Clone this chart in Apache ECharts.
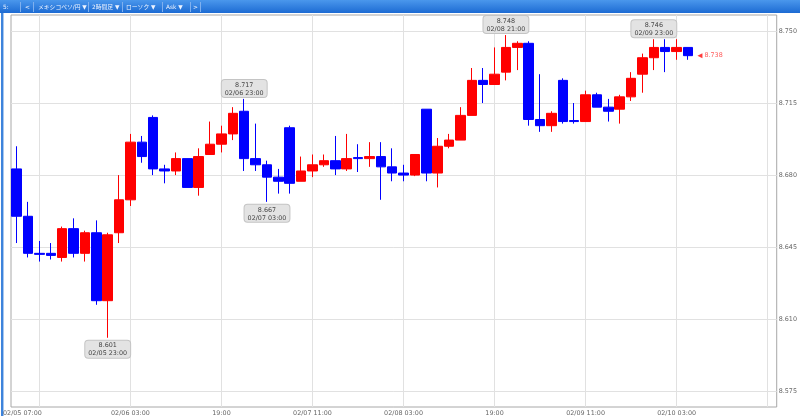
<!DOCTYPE html>
<html><head><meta charset="utf-8">
<script src="https://cdn.jsdelivr.net/npm/echarts@6/dist/echarts.min.js"></script>
<style>html,body{margin:0;padding:0;background:#fff;overflow:hidden}#c{width:800px;height:416px}</style>
</head><body><div id="c"></div>
<script>
// ---- data ----
const times = [
 '02/05 07:00','02/05 09:00','02/05 11:00','02/05 13:00','02/05 15:00','02/05 17:00','02/05 19:00','02/05 21:00','02/05 23:00',
 '02/06 01:00','02/06 03:00','02/06 05:00','02/06 07:00','02/06 09:00','02/06 11:00','02/06 13:00','02/06 15:00','02/06 17:00','02/06 19:00','02/06 21:00','02/06 23:00',
 '02/07 01:00','02/07 03:00','02/07 05:00','02/07 07:00','02/07 09:00','02/07 11:00','02/07 13:00','02/07 15:00','02/07 17:00','02/07 19:00','02/07 21:00','02/07 23:00',
 '02/08 01:00','02/08 03:00','02/08 05:00','02/08 07:00','02/08 09:00','02/08 11:00','02/08 13:00','02/08 15:00','02/08 17:00','02/08 19:00','02/08 21:00','02/08 23:00',
 '02/09 01:00','02/09 03:00','02/09 05:00','02/09 07:00','02/09 09:00','02/09 11:00','02/09 13:00','02/09 15:00','02/09 17:00','02/09 19:00','02/09 21:00','02/09 23:00',
 '02/10 01:00','02/10 03:00','02/10 05:00'
];
const openP  = [8.683,8.660,8.642,8.642,8.640,8.654,8.642,8.652,8.619,8.652,8.668,8.696,8.708,8.683,8.682,8.688,8.674,8.690,8.695,8.700,
                8.711,8.688,8.685,8.679,8.703,8.677,8.682,8.685,8.687,8.683,8.6885,8.688,8.689,8.684,8.681,8.680,8.712,8.681,8.694,8.697,
                8.709,8.726,8.724,8.730,8.742,8.744,8.707,8.704,8.726,8.7065,8.706,8.719,8.713,8.712,8.718,8.729,8.737,8.742,8.740,8.742];
const closeP = [8.660,8.642,8.6415,8.641,8.654,8.642,8.652,8.619,8.651,8.668,8.696,8.689,8.683,8.682,8.688,8.674,8.689,8.695,8.700,8.710,
                8.688,8.685,8.679,8.677,8.676,8.682,8.685,8.687,8.683,8.688,8.688,8.689,8.684,8.681,8.680,8.690,8.681,8.694,8.697,8.709,
                8.726,8.724,8.729,8.742,8.744,8.707,8.704,8.710,8.706,8.706,8.719,8.713,8.711,8.718,8.727,8.737,8.742,8.740,8.742,8.738];
const lowP   = [8.647,8.640,8.638,8.639,8.638,8.640,8.638,8.617,8.601,8.647,8.665,8.686,8.680,8.676,8.680,8.674,8.670,8.690,8.691,8.697,
                8.682,8.682,8.667,8.671,8.671,8.677,8.679,8.684,8.680,8.682,8.6815,8.684,8.668,8.677,8.677,8.6795,8.677,8.674,8.693,8.697,
                8.709,8.715,8.724,8.726,8.731,8.704,8.701,8.701,8.705,8.705,8.706,8.713,8.706,8.705,8.716,8.720,8.731,8.730,8.736,8.736];
const highP  = [8.694,8.667,8.648,8.647,8.655,8.659,8.653,8.658,8.652,8.680,8.700,8.699,8.709,8.685,8.691,8.688,8.693,8.706,8.704,8.713,
                8.717,8.705,8.687,8.683,8.704,8.689,8.690,8.690,8.699,8.700,8.695,8.696,8.696,8.693,8.685,8.690,8.712,8.698,8.700,8.713,
                8.732,8.732,8.742,8.748,8.745,8.745,8.729,8.711,8.727,8.715,8.721,8.720,8.717,8.719,8.730,8.739,8.746,8.746,8.746,8.742];
const priceTicks = [8.575, 8.610, 8.645, 8.680, 8.715, 8.750];
const timeGridIdx = [2, 10, 18, 26, 34, 42, 50, 58, 66];
const timeLabelIdx = [10, 18, 26, 34, 42, 50, 58];
const timeLabelText = ['02/06 03:00', '19:00', '02/07 11:00', '02/08 03:00', '19:00', '02/09 11:00', '02/10 03:00'];
const firstLabelText = '02/05 07:00';
const noteIdx = [8, 20, 22, 43, 56];
const noteSide = ['low', 'high', 'low', 'high', 'high'];
const lastPrice = 8.738;
const toolbarItems = ['5:', '<', 'メキシコペソ/円 ▼', '2時間足 ▼', 'ローソク ▼', 'Ask ▼', '>'];

// ---- layout / style ----
const FONT = '"DejaVu Sans", Verdana, sans-serif';
const TB_FONT = '"DejaVu Sans", "Noto Sans CJK JP", sans-serif';
const toolbarX = [3, 25, 38, 92, 126, 166, 193];
const dividerX = [20, 33, 88, 122, 162, 190, 200];
const X_MIN = -0.5, X_MAX = 66.8, Y_MIN = 8.56737, Y_MAX = 8.75775;

const candleData = openP.map((o, i) => [i, o, closeP[i], lowP[i], highP[i]]);

const noteLabel = {
  show: true, fontSize: 6.4, fontFamily: FONT, color: '#444', lineHeight: 8,
  backgroundColor: '#e3e3e3', borderColor: '#c4c4c4', borderWidth: 1, borderRadius: 3,
  padding: [1, 3, 0, 3], align: 'center'
};
const markData = noteIdx.map((idx, k) => {
  const hi = noteSide[k] === 'high';
  const v = hi ? highP[idx] : lowP[idx];
  return {
    coord: [idx, v], symbol: 'circle', symbolSize: 0,
    label: Object.assign({}, noteLabel, {
      position: hi ? 'top' : 'bottom', distance: hi ? 2 : 3,
      formatter: v.toFixed(3) + '\n' + times[idx]
    })
  };
});
markData.push({
  coord: [openP.length - 1, lastPrice], symbol: 'triangle', symbolSize: [5, 5], symbolRotate: 90,
  symbolOffset: [12, 0], itemStyle: { color: '#ff3b3b' },
  label: { show: true, position: 'right', distance: 2, fontSize: 6.4, fontFamily: FONT, color: '#ff5a5a',
           formatter: lastPrice.toFixed(3) }
});

const graphics = [
  { type: 'rect', shape: { x: 0, y: 0, width: 800, height: 13 }, silent: true,
    style: { fill: new echarts.graphic.LinearGradient(0, 0, 0, 1, [{ offset: 0, color: '#4a97ec' }, { offset: 1, color: '#1d6bd3' }]) } },
  { type: 'rect', shape: { x: 1, y: 13, width: 2, height: 403 }, silent: true, style: { fill: '#3d84dc' } },
  { type: 'rect', shape: { x: 3, y: 13, width: 1, height: 403 }, silent: true, style: { fill: '#a9c8ef' } }
];
dividerX.forEach(x => graphics.push({ type: 'rect', shape: { x: x, y: 2, width: 1, height: 10 }, silent: true, style: { fill: '#7fb0ee' } }));
toolbarItems.forEach((t, k) => graphics.push({
  type: 'text', x: toolbarX[k], y: 7, silent: true,
  style: { text: t, fill: '#eef4ff', font: '5.8px ' + TB_FONT, verticalAlign: 'middle', textAlign: 'left' }
}));

const axisLabelBase = { fontSize: 6.4, fontFamily: FONT, color: '#666' };

const option = {
  animation: false,
  backgroundColor: '#fff',
  grid: { left: 7, top: 15, right: 19, bottom: 8, show: true, borderColor: '#a8a8a8', borderWidth: 1, backgroundColor: 'transparent' },
  xAxis: [{
    type: 'value', min: X_MIN, max: X_MAX, position: 'bottom',
    axisLine: { show: false }, axisTick: { show: false, customValues: timeGridIdx },
    splitLine: { show: true, lineStyle: { color: '#e1e1e1', width: 1 } },
    axisLabel: Object.assign({}, axisLabelBase, { margin: 3, customValues: timeLabelIdx,
      formatter: v => timeLabelText[timeLabelIdx.indexOf(Math.round(v))] || '' })
  }, {
    type: 'value', min: X_MIN, max: X_MAX, position: 'bottom',
    axisLine: { show: false }, axisTick: { show: false, customValues: [X_MIN] }, splitLine: { show: false },
    axisLabel: Object.assign({}, axisLabelBase, { margin: 3, customValues: [X_MIN], align: 'left',
      padding: [0, 0, 0, -8], showMinLabel: true, formatter: () => firstLabelText })
  }],
  yAxis: {
    type: 'value', position: 'right', min: Y_MIN, max: Y_MAX, scale: true,
    axisLine: { show: false }, axisTick: { show: false, customValues: priceTicks },
    splitLine: { show: true, lineStyle: { color: '#e1e1e1', width: 1 } },
    axisLabel: Object.assign({}, axisLabelBase, { margin: 2, customValues: priceTicks, formatter: v => v.toFixed(3) })
  },
  graphic: graphics,
  series: [{
    type: 'candlestick', xAxisIndex: 0, yAxisIndex: 0,
    data: candleData, encode: { x: 0, y: [1, 2, 3, 4] },
    barWidth: 10,
    itemStyle: { color: '#ff0000', color0: '#0000ff', borderColor: '#ff0000', borderColor0: '#0000ff', borderWidth: 1 },
    markPoint: { silent: true, animation: false, data: markData }
  }]
};
const chart = echarts.init(document.getElementById('c'), null, { renderer: 'canvas' });
chart.setOption(option);
</script>
</body></html>
